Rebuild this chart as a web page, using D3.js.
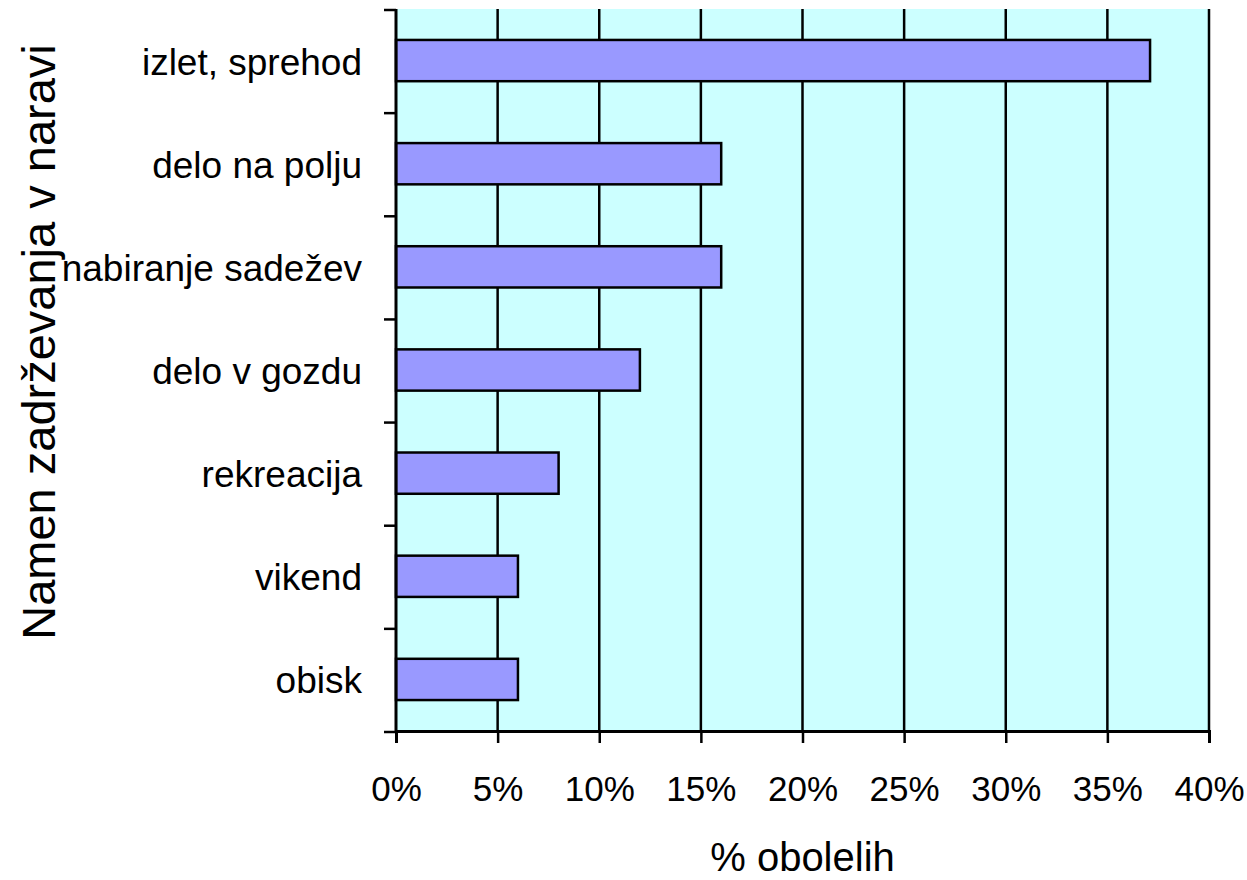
<!DOCTYPE html>
<html lang="sl">
<head>
<meta charset="UTF-8">
<title>Namen zadrževanja v naravi</title>
<script src="https://d3js.org/d3.v7.min.js"></script>
<style>
  body { margin: 0; background: #fff; font-family: "Liberation Sans", Arial, sans-serif; }
  svg text { fill: #000; }
</style>
</head>
<body>
<div id="chart"></div>
<script>
// data
const categories = ["izlet, sprehod", "delo na polju", "nabiranje sadežev", "delo v gozdu", "rekreacija", "vikend", "obisk"];
const values = [37.1, 16, 16, 12, 8, 6, 6];
const xTicks = [0, 5, 10, 15, 20, 25, 30, 35, 40];

const W = 1247, H = 880;
const margin = { top: 9, right: 38, bottom: 149, left: 396 };
const width = W - margin.left - margin.right;
const height = H - margin.top - margin.bottom;

const svg = d3.select("#chart").append("svg")
  .attr("width", W).attr("height", H);

const g = svg.append("g")
  .attr("transform", `translate(${margin.left},${margin.top})`);

const x = d3.scaleLinear().domain([0, 40]).range([0, width]);
const y = d3.scaleBand().domain(categories).range([0, height]).paddingInner(0.6).paddingOuter(0.3);

// plot background
g.append("rect")
  .attr("width", width).attr("height", height)
  .attr("fill", "#ccffff");

// vertical grid lines
g.selectAll(".grid").data(xTicks.slice(1))
  .enter().append("line")
  .attr("x1", d => x(d)).attr("x2", d => x(d))
  .attr("y1", 0).attr("y2", height)
  .attr("stroke", "#000").attr("stroke-width", 2.5);

// bars
g.selectAll(".bar").data(categories)
  .enter().append("rect")
  .attr("x", 0)
  .attr("y", d => y(d))
  .attr("width", (d, i) => x(values[i]))
  .attr("height", y.bandwidth())
  .attr("fill", "#9999ff")
  .attr("stroke", "#000")
  .attr("stroke-width", 2.5);

// x axis
const xAxis = g.append("g")
  .attr("transform", `translate(0,${height})`)
  .call(d3.axisBottom(x).tickValues(xTicks).tickFormat(d => d + "%").tickSize(12).tickPadding(33));
xAxis.select(".domain").attr("stroke-width", 3);
xAxis.selectAll(".tick line").attr("stroke-width", 2.5);
xAxis.selectAll("text").style("font-size", "35px").style("font-family", "'Liberation Sans', Arial, sans-serif");

// y axis: ticks at band boundaries, labels at band centers
const step = height / categories.length;
const bounds = d3.range(categories.length + 1).map(i => i * step);
g.selectAll(".ytick").data(bounds)
  .enter().append("line")
  .attr("x1", -12).attr("x2", 0)
  .attr("y1", d => d + 1).attr("y2", d => d + 1)
  .attr("stroke", "#000").attr("stroke-width", 2.5);
g.append("line")
  .attr("x1", 0).attr("x2", 0).attr("y1", 0).attr("y2", height)
  .attr("stroke", "#000").attr("stroke-width", 3);

g.selectAll(".ylabel").data(categories)
  .enter().append("text")
  .attr("x", -34)
  .attr("y", d => y(d) + y.bandwidth() / 2)
  .attr("dy", "0.38em")
  .attr("text-anchor", "end")
  .style("font-size", "37px")
  .text(d => d);

// axis titles
svg.append("text")
  .attr("x", margin.left + width / 2)
  .attr("y", 871)
  .attr("text-anchor", "middle")
  .style("font-size", "40px")
  .text("% obolelih");

svg.append("text")
  .attr("transform", `translate(55,342) rotate(-90)`)
  .attr("text-anchor", "middle")
  .style("font-size", "47px")
  .text("Namen zadrževanja v naravi");
</script>
</body>
</html>
